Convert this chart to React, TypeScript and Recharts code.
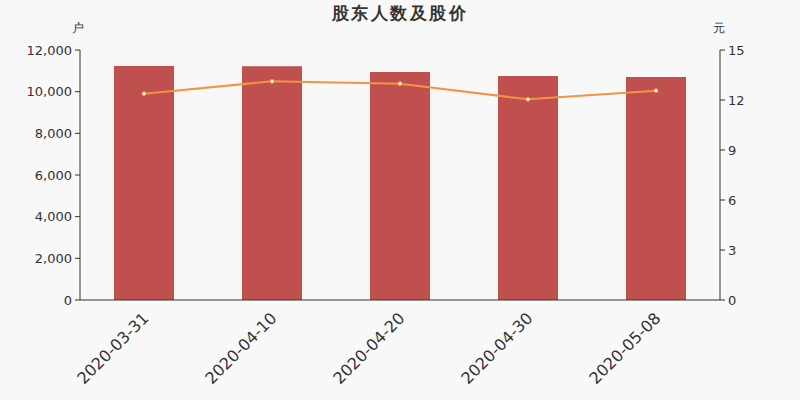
import React from 'react';
import { ComposedChart, Bar, Line, XAxis, YAxis } from 'recharts';

const categories = ['2020-03-31', '2020-04-10', '2020-04-20', '2020-04-30', '2020-05-08'];
const holders = [11232, 11216, 10944, 10752, 10704];
const prices = [12.38, 13.12, 12.98, 12.04, 12.56];
const leftTicks = [0, 2000, 4000, 6000, 8000, 10000, 12000];
const rightTicks = [0, 3, 6, 9, 12, 15];
const boundaryTicks = [0, 1, 2, 3, 4, 5];

const data = categories.map((c, i) => ({ date: c, holders: holders[i], price: prices[i] }));

const AXIS = '#333';
const FONT = 'DejaVu Sans, sans-serif';

const XTick = (props: any) => {
  const { x, y, payload } = props;
  return (
    <g transform={`translate(${x},${y})`}>
      <text
        x={0}
        y={0}
        dy={12}
        dx={-4}
        textAnchor="end"
        fill="#333"
        fontSize={16}
        fontFamily={FONT}
        transform="rotate(-45)"
      >
        {payload.value}
      </text>
    </g>
  );
};

export default function App() {
  return (
    <div style={{ position: 'absolute', left: 0, top: 0, width: 800, height: 400, background: '#f8f8f8' }}>
      <ComposedChart
        width={800}
        height={400}
        data={data}
        margin={{ top: 50, right: 0, bottom: 0, left: 0 }}
        style={{ fontFamily: FONT }}
      >
        <text x={400} y={19} textAnchor="middle" fontSize={17} fontWeight="bold" fill="#333" fontFamily={FONT} letterSpacing={2.5}>
          股东人数及股价
        </text>
        <text x={78} y={32} textAnchor="middle" fontSize={12} fill="#333" fontFamily={FONT}>户</text>
        <text x={719} y={32} textAnchor="middle" fontSize={12} fill="#333" fontFamily={FONT}>元</text>
        <XAxis
          xAxisId="bnd"
          type="number"
          domain={[0, 5]}
          ticks={boundaryTicks}
          height={0}
          tick={false}
          axisLine={false}
          tickLine={{ stroke: AXIS }}
          tickSize={5}
        />
        <XAxis
          dataKey="date"
          xAxisId="cat"
          height={100}
          tickLine={false}
          axisLine={{ stroke: AXIS }}
          tick={<XTick />}
          interval={0}
        />
        <YAxis
          yAxisId="left"
          width={80}
          domain={[0, 12000]}
          ticks={leftTicks}
          tickFormatter={(v: number) => v.toLocaleString('en-US')}
          tick={{ fill: '#333', fontSize: 13, fontFamily: FONT }}
          axisLine={{ stroke: AXIS }}
          tickLine={{ stroke: AXIS }}
          tickSize={5}
          tickMargin={3}
        />
        <YAxis
          yAxisId="right"
          orientation="right"
          width={80}
          domain={[0, 15]}
          ticks={rightTicks}
          tick={{ fill: '#333', fontSize: 13, fontFamily: FONT }}
          axisLine={{ stroke: AXIS }}
          tickLine={{ stroke: AXIS }}
          tickSize={5}
          tickMargin={3}
        />
        <Bar
          dataKey="holders"
          xAxisId="cat"
          yAxisId="left"
          fill="#c0504d"
          barSize={60}
          isAnimationActive={false}
        />
        <Line
          dataKey="price"
          xAxisId="cat"
          yAxisId="right"
          stroke="#f59343"
          strokeWidth={2}
          dot={{ r: 2, fill: '#fff', stroke: '#f59343', strokeWidth: 1 }}
          activeDot={false}
          isAnimationActive={false}
        />
      </ComposedChart>
    </div>
  );
}
